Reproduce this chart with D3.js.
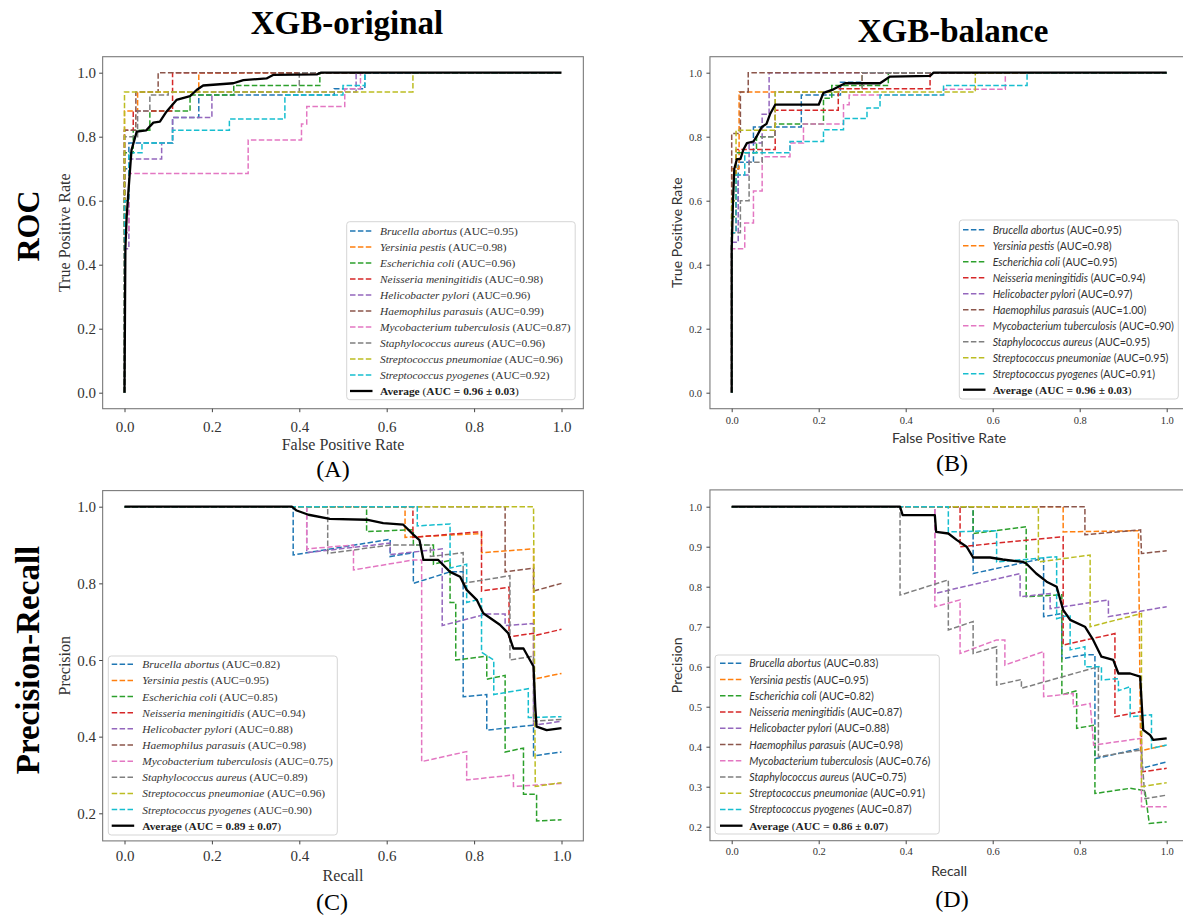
<!DOCTYPE html>
<html><head><meta charset="utf-8">
<script src="https://cdn.jsdelivr.net/npm/d3@7"></script>
<style>body{margin:0;background:#fff;} svg{display:block;}</style>
</head><body><svg id="c" width="1183" height="915"></svg>
<script>
const species = ["Brucella abortus","Yersinia pestis","Escherichia coli","Neisseria meningitidis","Helicobacter pylori","Haemophilus parasuis","Mycobacterium tuberculosis","Staphylococcus aureus","Streptococcus pneumoniae","Streptococcus pyogenes"];
const colors = ["#1f77b4","#ff7f0e","#2ca02c","#d62728","#9467bd","#8c564b","#e377c2","#7f7f7f","#bcbd22","#17becf"];
const aucRocOriginal = ["0.95","0.98","0.96","0.98","0.96","0.99","0.87","0.96","0.96","0.92"];
const aucRocBalance  = ["0.95","0.98","0.95","0.94","0.97","1.00","0.90","0.95","0.95","0.91"];
const aucPrOriginal  = ["0.82","0.95","0.85","0.94","0.88","0.98","0.75","0.89","0.96","0.90"];
const aucPrBalance   = ["0.83","0.95","0.82","0.87","0.88","0.98","0.76","0.75","0.91","0.87"];
const avgRocOriginalLabel = "0.96 ± 0.03";
const avgRocBalanceLabel = "0.96 ± 0.03";
const avgPrOriginalLabel = "0.89 ± 0.07";
const avgPrBalanceLabel = "0.86 ± 0.07";
const xTicks = [0,0.2,0.4,0.6,0.8,1.0];
const rocYTicks = [0,0.2,0.4,0.6,0.8,1.0];
const prYTicksC = [0.2,0.4,0.6,0.8,1.0];
const prYTicksD = [0.2,0.3,0.4,0.5,0.6,0.7,0.8,0.9,1.0];

// ROC curves (FPR, TPR) - XGB-original
const rocOriginal = [
 [[0,0],[0,0.7],[0.01,0.7],[0.01,0.78],[0.11,0.78],[0.11,0.86],[0.17,0.86],[0.17,0.93],[0.48,0.93],[0.48,0.95],[0.55,0.95],[0.55,1],[1,1]],
 [[0,0],[0,0.88],[0.03,0.88],[0.03,0.94],[0.17,0.94],[0.17,1],[1,1]],
 [[0,0],[0,0.75],[0.02,0.75],[0.02,0.82],[0.058,0.82],[0.058,0.88],[0.15,0.88],[0.15,0.93],[0.25,0.93],[0.25,0.96],[0.447,0.96],[0.447,1],[1,1]],
 [[0,0],[0,0.82],[0.02,0.82],[0.02,0.88],[0.11,0.88],[0.11,1],[1,1]],
 [[0,0],[0,0.45],[0.01,0.45],[0.01,0.73],[0.085,0.73],[0.085,0.78],[0.11,0.78],[0.11,0.86],[0.2,0.86],[0.2,0.94],[0.53,0.94],[0.53,1],[1,1]],
 [[0,0],[0,0.82],[0.026,0.82],[0.026,0.94],[0.077,0.94],[0.077,1],[1,1]],
 [[0,0],[0,0.5],[0.01,0.5],[0.01,0.685],[0.283,0.685],[0.283,0.79],[0.405,0.79],[0.405,0.84],[0.417,0.84],[0.417,0.894],[0.504,0.894],[0.504,0.95],[0.54,0.95],[0.54,1],[1,1]],
 [[0,0],[0,0.8],[0.03,0.8],[0.03,0.88],[0.058,0.88],[0.058,0.93],[0.1,0.93],[0.1,0.94],[0.4,0.94],[0.4,1],[1,1]],
 [[0,0],[0,0.94],[0.66,0.94],[0.66,1],[1,1]],
 [[0,0],[0,0.6],[0.01,0.6],[0.01,0.75],[0.04,0.75],[0.04,0.78],[0.11,0.78],[0.11,0.82],[0.24,0.82],[0.24,0.855],[0.367,0.855],[0.367,0.93],[0.5,0.93],[0.5,0.96],[0.55,0.96],[0.55,1],[1,1]]
];
const rocOriginalAvg = [[0,0],[0.002,0.45],[0.005,0.55],[0.009,0.63],[0.016,0.758],[0.028,0.816],[0.05,0.82],[0.066,0.844],[0.081,0.847],[0.096,0.878],[0.119,0.915],[0.15,0.927],[0.165,0.946],[0.18,0.96],[0.249,0.967],[0.272,0.977],[0.325,0.982],[0.34,0.993],[0.44,0.995],[0.45,1],[1,1]];

// ROC curves - XGB-balance
const rocBalance = [
 [[0,0],[0,0.6],[0.015,0.6],[0.015,0.72],[0.05,0.72],[0.05,0.83],[0.16,0.83],[0.16,0.93],[0.25,0.93],[0.25,0.97],[0.3,0.97],[0.3,1],[1,1]],
 [[0,0],[0,0.7],[0.017,0.7],[0.017,0.94],[0.3,0.94],[0.3,1],[1,1]],
 [[0,0],[0,0.55],[0.01,0.55],[0.01,0.75],[0.057,0.75],[0.057,0.8],[0.1,0.8],[0.1,0.84],[0.211,0.84],[0.211,0.92],[0.23,0.92],[0.23,0.96],[0.36,0.96],[0.36,1],[1,1]],
 [[0,0],[0,0.5],[0.01,0.5],[0.01,0.76],[0.1,0.76],[0.1,0.883],[0.245,0.883],[0.245,0.95],[0.456,0.95],[0.456,1],[1,1]],
 [[0,0],[0,0.47],[0.015,0.47],[0.015,0.68],[0.04,0.68],[0.04,0.78],[0.07,0.78],[0.07,0.87],[0.086,0.87],[0.086,1],[1,1]],
 [[0,0],[0,0.81],[0.02,0.81],[0.02,0.94],[0.038,0.94],[0.038,1],[1,1]],
 [[0,0],[0,0.45],[0.03,0.45],[0.03,0.53],[0.05,0.53],[0.05,0.63],[0.07,0.63],[0.07,0.737],[0.134,0.737],[0.134,0.78],[0.165,0.78],[0.165,0.84],[0.257,0.84],[0.257,0.9],[0.27,0.9],[0.27,0.93],[0.487,0.93],[0.487,0.948],[0.629,0.948],[0.629,1],[1,1]],
 [[0,0],[0,0.5],[0.02,0.5],[0.02,0.6],[0.04,0.6],[0.04,0.72],[0.07,0.72],[0.07,0.8],[0.1,0.8],[0.1,0.94],[0.3,0.94],[0.3,1],[1,1]],
 [[0,0],[0,0.6],[0.01,0.6],[0.01,0.82],[0.1,0.82],[0.1,0.94],[0.56,0.94],[0.56,1],[1,1]],
 [[0,0],[0,0.5],[0.01,0.5],[0.01,0.68],[0.03,0.68],[0.03,0.75],[0.134,0.75],[0.134,0.785],[0.211,0.785],[0.211,0.822],[0.257,0.822],[0.257,0.857],[0.311,0.857],[0.311,0.89],[0.341,0.89],[0.341,0.93],[0.487,0.93],[0.487,0.96],[0.679,0.96],[0.679,1],[1,1]]
];
const rocBalanceAvg = [[0,0],[0,0.45],[0.003,0.6],[0.006,0.7],[0.012,0.73],[0.02,0.73],[0.027,0.76],[0.035,0.78],[0.05,0.785],[0.057,0.8],[0.069,0.83],[0.08,0.84],[0.088,0.87],[0.1,0.9],[0.2,0.9],[0.211,0.937],[0.234,0.948],[0.261,0.967],[0.341,0.967],[0.364,0.988],[0.456,0.99],[0.464,1],[1,1]];

// PR curves (Recall, Precision) - XGB-original
const prOriginal = [
 [[0,1],[0.386,1],[0.386,0.874],[0.608,0.915],[0.608,0.87],[0.661,0.88],[0.661,0.8],[0.745,0.83],[0.775,0.83],[0.775,0.504],[0.829,0.51],[0.829,0.417],[0.936,0.43],[0.936,0.35],[1,0.36]],
 [[0,1],[0.642,1],[0.642,0.92],[0.817,0.93],[0.817,0.88],[0.936,0.89],[0.936,0.55],[1,0.565]],
 [[0,1],[0.554,1],[0.554,0.935],[0.661,0.94],[0.661,0.9],[0.707,0.9],[0.707,0.85],[0.745,0.86],[0.745,0.75],[0.758,0.75],[0.758,0.6],[0.829,0.61],[0.829,0.55],[0.871,0.56],[0.871,0.36],[0.913,0.37],[0.913,0.25],[0.943,0.25],[0.943,0.18],[1,0.183]],
 [[0,1],[0.66,1],[0.66,0.92],[0.817,0.935],[0.817,0.78],[0.88,0.79],[0.88,0.66],[0.936,0.67],[0.943,0.665],[1,0.68]],
 [[0,1],[0.417,1],[0.417,0.88],[0.608,0.905],[0.608,0.875],[0.727,0.89],[0.727,0.69],[0.829,0.72],[0.871,0.72],[0.871,0.69],[0.936,0.695],[0.936,0.43],[1,0.44]],
 [[0,1],[0.871,1],[0.871,0.83],[0.936,0.84],[0.936,0.78],[1,0.8]],
 [[0,1],[0.417,1],[0.417,0.89],[0.524,0.9],[0.524,0.835],[0.661,0.861],[0.68,0.861],[0.68,0.335],[0.783,0.361],[0.783,0.287],[0.89,0.3],[0.89,0.27],[1,0.278]],
 [[0,1],[0.465,1],[0.465,0.878],[0.608,0.9],[0.7,0.9],[0.7,0.87],[0.775,0.88],[0.775,0.8],[0.882,0.82],[0.882,0.6],[0.936,0.61],[0.936,0.44],[1,0.445]],
 [[0,1],[0.936,1],[0.94,0.27],[1,0.28]],
 [[0,1],[0.67,1],[0.67,0.95],[0.745,0.955],[0.745,0.84],[0.783,0.85],[0.783,0.75],[0.817,0.76],[0.817,0.62],[0.845,0.6],[0.845,0.51],[0.924,0.525],[0.924,0.45],[1,0.452]]
];
const prOriginalAvg = [[0,1],[0.383,1],[0.394,0.99],[0.421,0.979],[0.47,0.968],[0.554,0.966],[0.592,0.957],[0.638,0.953],[0.661,0.927],[0.675,0.913],[0.684,0.861],[0.718,0.861],[0.745,0.83],[0.768,0.817],[0.783,0.783],[0.806,0.757],[0.821,0.722],[0.859,0.692],[0.878,0.67],[0.89,0.63],[0.913,0.63],[0.936,0.583],[0.94,0.478],[0.943,0.426],[0.966,0.417],[1,0.422]];

// PR curves - XGB-balance
const prBalance = [
 [[0,1],[0.555,1],[0.555,0.833],[0.717,0.871],[0.717,0.725],[0.759,0.733],[0.759,0.62],[0.812,0.63],[0.835,0.63],[0.835,0.37],[0.942,0.396],[0.942,0.346],[1,0.362]],
 [[0,1],[0.762,1],[0.762,0.937],[0.935,0.94],[0.94,0.39],[1,0.404]],
 [[0,1],[0.555,1],[0.555,0.933],[0.677,0.95],[0.677,0.775],[0.759,0.78],[0.759,0.53],[0.793,0.54],[0.793,0.446],[0.835,0.454],[0.835,0.283],[0.916,0.296],[0.95,0.29],[0.96,0.208],[1,0.212]],
 [[0,1],[0.525,1],[0.525,0.9],[0.762,0.925],[0.762,0.654],[0.881,0.683],[0.881,0.475],[0.942,0.488],[0.942,0.337],[1,0.346]],
 [[0,1],[0.467,1],[0.467,0.783],[0.663,0.833],[0.663,0.775],[0.732,0.783],[0.732,0.745],[0.866,0.767],[0.866,0.725],[1,0.75]],
 [[0,1],[0.812,1],[0.812,0.93],[0.94,0.942],[0.942,0.883],[1,0.89]],
 [[0,1],[0.467,1],[0.467,0.75],[0.525,0.767],[0.525,0.633],[0.609,0.667],[0.628,0.667],[0.628,0.604],[0.717,0.638],[0.717,0.525],[0.785,0.533],[0.785,0.5],[0.824,0.508],[0.832,0.404],[0.942,0.421],[0.942,0.25],[1,0.25]],
 [[0,1],[0.387,1],[0.387,0.779],[0.498,0.817],[0.498,0.692],[0.555,0.713],[0.555,0.633],[0.609,0.65],[0.609,0.554],[0.666,0.568],[0.666,0.546],[0.843,0.6],[0.843,0.375],[0.942,0.392],[0.95,0.27],[1,0.279]],
 [[0,1],[0.705,1],[0.705,0.862],[0.824,0.879],[0.824,0.7],[0.942,0.733],[0.942,0.3],[1,0.31]],
 [[0,1],[0.498,1],[0.498,0.937],[0.609,0.94],[0.609,0.862],[0.747,0.875],[0.747,0.72],[0.778,0.73],[0.778,0.642],[0.812,0.65],[0.812,0.6],[0.85,0.6],[0.85,0.567],[0.889,0.57],[0.889,0.54],[0.916,0.55],[0.916,0.475],[0.965,0.48],[0.965,0.396],[1,0.404]]
];
const prBalanceAvg = [[0,1],[0.387,1],[0.393,0.979],[0.467,0.979],[0.47,0.937],[0.498,0.933],[0.517,0.917],[0.54,0.9],[0.555,0.873],[0.594,0.873],[0.623,0.868],[0.67,0.862],[0.677,0.858],[0.7,0.833],[0.724,0.8125],[0.747,0.8],[0.762,0.742],[0.778,0.717],[0.812,0.7],[0.831,0.667],[0.85,0.625],[0.877,0.617],[0.889,0.583],[0.916,0.583],[0.939,0.575],[0.946,0.442],[0.962,0.429],[0.969,0.417],[1,0.421]];

const SERIF = "'Liberation Serif','Times New Roman',serif";
const SANS = "Lato,'Open Sans',sans-serif";
const svg = d3.select("#c");

const panels = [
 {curves: rocOriginal, avg: rocOriginalAvg, auc: aucRocOriginal, avgLabel: avgRocOriginalLabel,
  xr:[124.5,561.5], yd:[0,1], yr:[392.7,72.7], fy:[-0.05,1.05], yt: rocYTicks,
  sansLabels:false, tickFont:15, xtickOff:18, ytickRight:96, xlabel:"False Positive Rate", xlabelY:444, ylabel:"True Positive Rate", ylabelX:64,
  leg:{x:346.7, y:221.7, w:228.5, h:178, y0:231, dy:16, hx:350, tx:380, fs:11.4}},
 {curves: rocBalance, avg: rocBalanceAvg, auc: aucRocBalance, avgLabel: avgRocBalanceLabel,
  xr:[731.7,1166.7], yd:[0,1], yr:[392.7,72.7], fy:[-0.05,1.05], yt: rocYTicks,
  sansLabels:true, tickFont:10.5, xtickOff:11.3, ytickRight:702, xlabel:"False Positive Rate", xlabelY:437, ylabel:"True Positive Rate", ylabelX:676,
  leg:{x:959.3, y:220, w:219, h:179, y0:229.7, dy:16, hx:963, tx:992.7, fs:10.6}},
 {curves: prOriginal, avg: prOriginalAvg, auc: aucPrOriginal, avgLabel: avgPrOriginalLabel,
  xr:[124.5,561.5], yd:[0.2,1], yr:[813.3,506.7], fy:[0.128,1.042], yt: prYTicksC,
  sansLabels:false, tickFont:15, xtickOff:15, ytickRight:96, xlabel:"Recall", xlabelY:875.6, ylabel:"Precision", ylabelX:64,
  leg:{x:108.3, y:656, w:229, h:179, y0:664.3, dy:16.14, hx:111.7, tx:142.3, fs:11.4}},
 {curves: prBalance, avg: prBalanceAvg, auc: aucPrBalance, avgLabel: avgPrBalanceLabel,
  xr:[731.7,1166.7], yd:[0.2,1], yr:[826.7,506.7], fy:[0.165,1.042], yt: prYTicksD,
  sansLabels:true, tickFont:10.5, xtickOff:11, ytickRight:702, xlabel:"Recall", xlabelY:870, ylabel:"Precision", ylabelX:676,
  leg:{x:715, y:655, w:224.3, h:179, y0:663.3, dy:16.24, hx:720, tx:749.3, fs:10.6}}
];

panels.forEach(p => {
  const x = d3.scaleLinear().domain([0,1]).range(p.xr);
  const y = d3.scaleLinear().domain(p.yd).range(p.yr);
  const fx0 = x(-0.05), fx1 = x(1.05), fyTop = y(p.fy[1]), fyBot = y(p.fy[0]);
  const g = svg.append("g");
  const line = d3.line().x(d => x(d[0])).y(d => y(d[1]));
  p.curves.forEach((c, i) => {
    g.append("path").attr("d", line(c)).attr("fill","none").attr("stroke", colors[i])
     .attr("stroke-width",1.5).attr("stroke-dasharray","5.5,2.4");
  });
  g.append("path").attr("d", line(p.avg)).attr("fill","none").attr("stroke","#000")
   .attr("stroke-width",2.3).attr("stroke-linejoin","round");
  g.append("rect").attr("x",fx0).attr("y",fyTop).attr("width",fx1-fx0).attr("height",fyBot-fyTop)
   .attr("fill","none").attr("stroke","#7a7a7a").attr("stroke-width",1.1);
  const xa = g.append("g").attr("transform",`translate(0,${fyBot})`)
    .call(d3.axisBottom(x).tickValues(xTicks).tickSize(3.5).tickFormat(d3.format(".1f")));
  xa.select(".domain").remove();
  xa.selectAll("line").attr("stroke","#444");
  xa.selectAll("text").attr("y", p.xtickOff).attr("dy","0.35em")
    .style("font-family", SERIF).style("font-size", p.tickFont+"px").attr("fill","#333");
  const ya = g.append("g").attr("transform",`translate(${fx0},0)`)
    .call(d3.axisLeft(y).tickValues(p.yt).tickSize(3.5).tickFormat(d3.format(".1f")));
  ya.select(".domain").remove();
  ya.selectAll("line").attr("stroke","#444");
  ya.selectAll("text").attr("x", p.ytickRight - fx0).attr("dy","0.35em")
    .style("font-family", SERIF).style("font-size", p.tickFont+"px").attr("fill","#333");
  const lf = p.sansLabels ? SANS : SERIF;
  const lfs = p.sansLabels ? 14 : 16;
  g.append("text").attr("x",(x(0)+x(1))/2).attr("y",p.xlabelY).attr("text-anchor","middle")
   .attr("dominant-baseline","central").style("font-family",lf).style("font-size",lfs+"px")
   .attr("fill","#333").text(p.xlabel);
  g.append("text").attr("transform",`translate(${p.ylabelX},${(fyTop+fyBot)/2}) rotate(-90)`)
   .attr("text-anchor","middle").attr("dominant-baseline","central")
   .style("font-family",lf).style("font-size",lfs+"px").attr("fill","#333").text(p.ylabel);
  const L = p.leg;
  const lg = g.append("g");
  lg.append("rect").attr("x",L.x).attr("y",L.y).attr("width",L.w).attr("height",L.h).attr("rx",3)
    .attr("fill","#fff").attr("fill-opacity",0.85).attr("stroke","#d5d5d5").attr("stroke-width",1);
  const nameFont = p.sansLabels ? SANS : SERIF;
  species.forEach((s, i) => {
    const yy = L.y0 + i*L.dy;
    lg.append("line").attr("x1",L.hx).attr("x2",L.hx+22.5).attr("y1",yy).attr("y2",yy)
      .attr("stroke",colors[i]).attr("stroke-width",1.5).attr("stroke-dasharray","5.5,2.4");
    const t = lg.append("text").attr("x",L.tx).attr("y",yy).attr("dominant-baseline","central")
      .style("font-family",nameFont).style("font-size",L.fs+"px").attr("fill","#333");
    t.append("tspan").style("font-style","italic").text(s);
    t.append("tspan").text(" (AUC=" + p.auc[i] + ")");
  });
  const ya2 = L.y0 + 10*L.dy;
  lg.append("line").attr("x1",L.hx).attr("x2",L.hx+22.5).attr("y1",ya2).attr("y2",ya2)
    .attr("stroke","#000").attr("stroke-width",2.3);
  const at = lg.append("text").attr("x",L.tx).attr("y",ya2).attr("dominant-baseline","central")
    .style("font-family",SERIF).style("font-size","11.4px").attr("fill","#222");
  at.append("tspan").style("font-weight","bold").text("Average");
  at.append("tspan").text(" (");
  at.append("tspan").style("font-weight","bold").text("AUC = " + p.avgLabel);
  at.append("tspan").text(")");
});

const big = (txt, x, y, size, rot) => {
  const t = svg.append("text").style("font-family",SERIF).style("font-weight","bold")
    .style("font-size",size+"px").attr("text-anchor","middle").attr("fill","#000").text(txt);
  if (rot) t.attr("transform",`translate(${x},${y}) rotate(-90)`);
  else t.attr("x",x).attr("y",y);
};
big("XGB-original", 347, 34, 33);
big("XGB-balance", 953, 42, 33);
big("ROC", 39, 226, 32, true);
big("Precision-Recall", 39, 660, 33, true);
const lab = (txt, x, y) => svg.append("text").attr("x",x).attr("y",y).attr("text-anchor","middle")
  .attr("dominant-baseline","central").style("font-family",SERIF).style("font-size","24px").attr("fill","#000").text(txt);
lab("(A)", 333, 469);
lab("(B)", 952, 463);
lab("(C)", 332, 902);
lab("(D)", 952, 899);
</script></body></html>
